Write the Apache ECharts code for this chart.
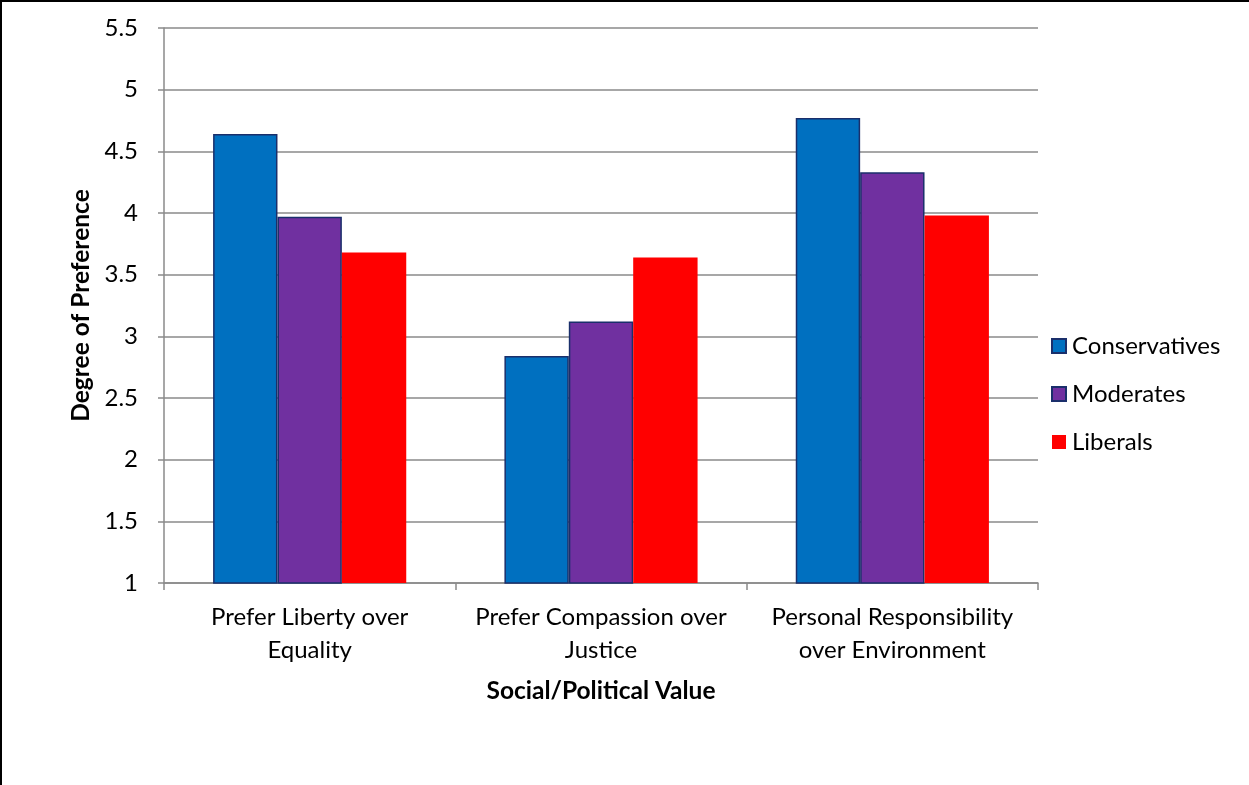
<!DOCTYPE html>
<html>
<head>
<meta charset="utf-8">
<script src="https://cdn.jsdelivr.net/npm/echarts@6/dist/echarts.min.js"></script>
<style>
html,body{margin:0;padding:0;background:#fff;}
#chart{width:1249px;height:785px;}
</style>
</head>
<body>
<div id="chart"></div>
<script>
const categories = ['Prefer Liberty over\nEquality', 'Prefer Compassion over\nJustice', 'Personal Responsibility\nover Environment'];
const conservatives = [4.64, 2.84, 4.77];
const moderates = [3.97, 3.12, 4.33];
const liberals = [3.68, 3.64, 3.98];
const seriesNames = ['Conservatives', 'Moderates', 'Liberals'];
const yTicks = [1, 1.5, 2, 2.5, 3, 3.5, 4, 4.5, 5, 5.5];

const FONT = 'Lato, "Open Sans", sans-serif';
const chart = echarts.init(document.getElementById('chart'), null, {renderer: 'canvas'});
const border = '#1a2f6b';
const gridCol = '#8a8a8a';
chart.setOption({
  animation: false,
  backgroundColor: '#fff',
  textStyle: {fontFamily: FONT},
  graphic: [{
    type: 'rect', shape: {x: 1, y: 1, width: 1400, height: 1000},
    style: {fill: 'none', stroke: '#000', lineWidth: 2}, silent: true
  }],
  grid: {left: 164, right: 211, top: 28, bottom: 202, containLabel: false},
  legend: {
    orient: 'vertical', left: 1046, top: 329,
    itemWidth: 14, itemHeight: 14, itemGap: 24,
    icon: 'rect',
    textStyle: {fontFamily: FONT, fontSize: 24, color: '#000', padding: [0, 0, 0, 1]},
    data: seriesNames
  },
  xAxis: {
    type: 'category', data: categories,
    name: 'Social/Political Value', nameLocation: 'middle', nameGap: 96,
    nameTextStyle: {fontFamily: FONT, fontSize: 24.5, fontWeight: 'bold', color: '#000'},
    axisLine: {lineStyle: {color: gridCol, width: 1.5}},
    axisTick: {show: true, length: 7, lineStyle: {color: gridCol, width: 1.5}},
    axisLabel: {fontFamily: FONT, fontSize: 24, color: '#000', margin: 18, lineHeight: 33,
      interval: 0, hideOverlap: false}
  },
  yAxis: {
    type: 'value', min: 1, max: 5.5, interval: 0.5,
    name: 'Degree of Preference', nameLocation: 'middle', nameGap: 65, nameRotate: 90,
    nameTextStyle: {fontFamily: FONT, fontSize: 24.5, fontWeight: 'bold', color: '#000'},
    axisLine: {show: true, lineStyle: {color: gridCol, width: 1.5}},
    axisTick: {show: true, length: 6, lineStyle: {color: gridCol, width: 1.5}},
    axisLabel: {fontFamily: FONT, fontSize: 24, color: '#000', margin: 26,
      formatter: v => yTicks.includes(v) ? String(v) : ''},
    splitLine: {lineStyle: {color: gridCol, width: 1.5}}
  },
  series: [
    {name: seriesNames[0], type: 'bar', data: conservatives, barGap: '0%', barCategoryGap: '33.7%',
      itemStyle: {color: '#0070C0', borderColor: border, borderWidth: 1.5}},
    {name: seriesNames[1], type: 'bar', data: moderates, barGap: '0%', barCategoryGap: '33.7%',
      itemStyle: {color: '#7030A0', borderColor: border, borderWidth: 1.5}},
    {name: seriesNames[2], type: 'bar', data: liberals, barGap: '0%', barCategoryGap: '33.7%',
      itemStyle: {color: '#FF0000', borderWidth: 0}}
  ]
});
</script>
</body>
</html>
